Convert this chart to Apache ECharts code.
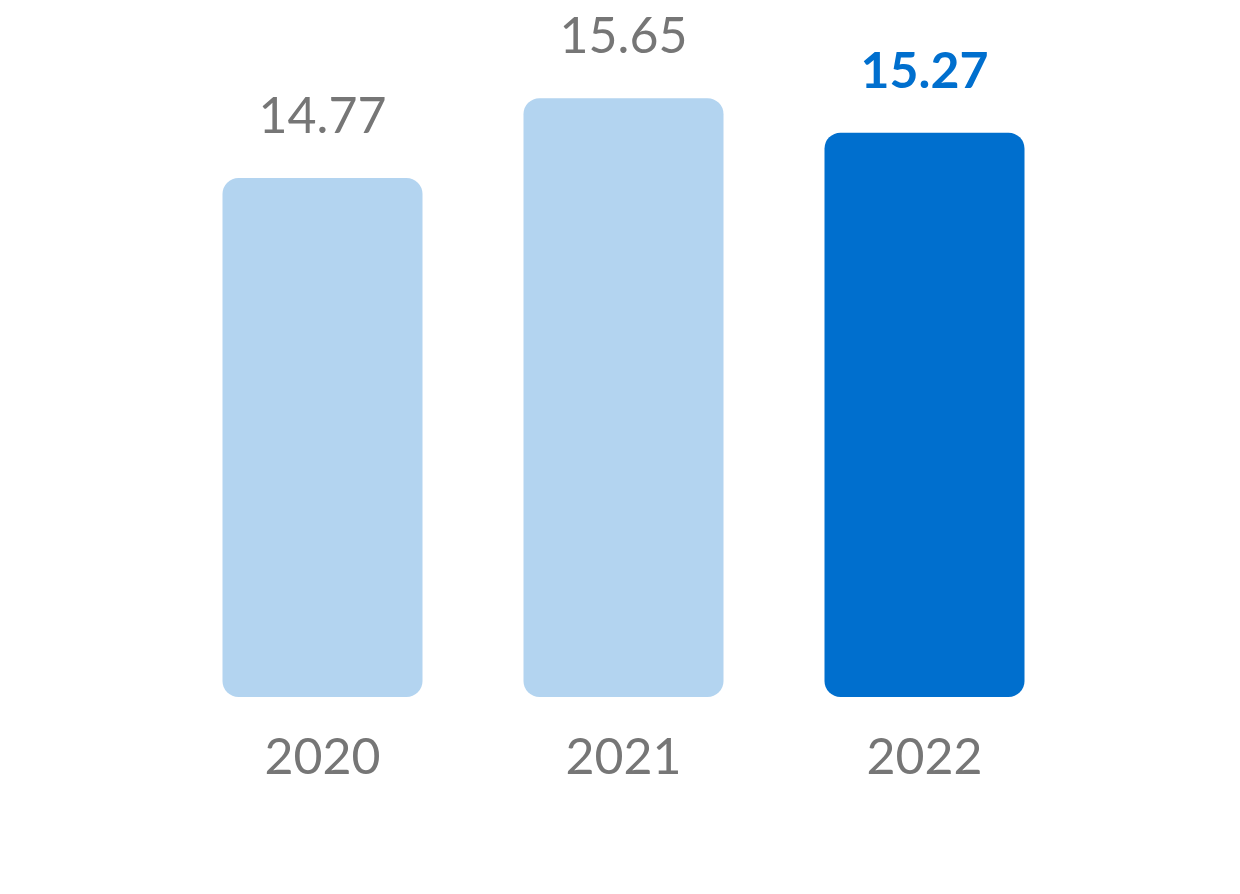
<!DOCTYPE html>
<html>
<head>
<meta charset="utf-8">
<script src="https://cdn.jsdelivr.net/npm/echarts@6/dist/echarts.min.js"></script>
<style>html,body{margin:0;background:#fff}</style>
</head>
<body>
<div id="main" style="width:1240px;height:894px;"></div>
<script>
var years = ['2020', '2021', '2022'];
var values = [14.77, 15.65, 15.27];

var light = '#b3d4f0', dark = '#006fce';
var chart = echarts.init(document.getElementById('main'));
chart.setOption({
    animation: false,
    grid: { left: 172, right: 165, top: 0, bottom: 197, containLabel: false },
    xAxis: {
        type: 'category',
        data: years,
        axisLine: { show: false },
        axisTick: { show: false },
        axisLabel: { color: '#767676', fontSize: 50, fontFamily: 'Lato', margin: 36 }
    },
    yAxis: { type: 'value', min: 9.06, max: 16.73, show: false },
    series: [{
        type: 'bar',
        barWidth: 200,
        data: values.map(function (v, i) {
            var last = i === values.length - 1;
            return {
                value: v,
                itemStyle: { color: last ? dark : light, borderRadius: 16 },
                label: last ? { color: dark, fontWeight: 'bold' } : {}
            };
        }),
        label: {
            show: true,
            position: 'top',
            distance: 36,
            color: '#767676',
            fontSize: 50,
            fontFamily: 'Lato'
        }
    }]
});
</script>
</body>
</html>
